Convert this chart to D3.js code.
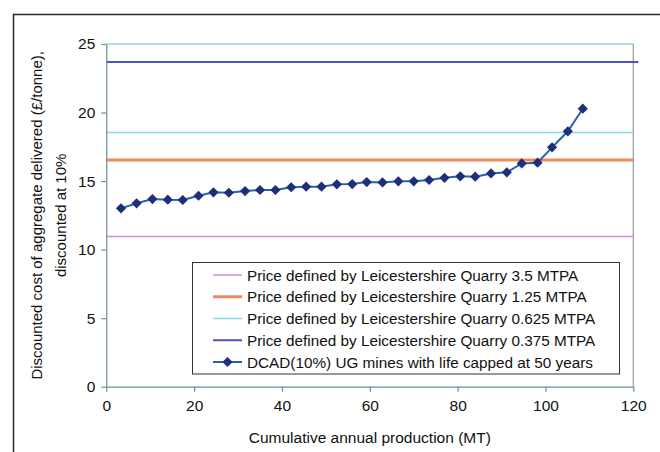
<!DOCTYPE html>
<html>
<head>
<meta charset="utf-8">
<script src="https://cdn.jsdelivr.net/npm/d3@7"></script>
<style>
  html, body { margin: 0; padding: 0; background: #fff; }
  svg { display: block; font-family: "Liberation Sans", Arial, sans-serif; }
</style>
</head>
<body>
<svg id="chart" width="660" height="452"></svg>
<script>
// Cumulative annual production (MT) of underground mines, ranked by cost
const production = [3.35, 6.9, 10.5, 14.0, 17.4, 21.0, 24.4, 27.9, 31.6, 35.0, 38.5, 42.1, 45.5, 49.0, 52.5, 56.0,
  59.3, 62.9, 66.5, 70.0, 73.5, 77.0, 80.6, 84.0, 87.6, 91.2, 94.6, 98.2, 101.5, 105.1, 108.5];
// Discounted cost of aggregate delivered (£/tonne), 10% discount rate
const dcad = [13.01, 13.38, 13.69, 13.64, 13.62, 13.93, 14.18, 14.15, 14.27, 14.35, 14.35, 14.55, 14.59, 14.59, 14.76, 14.78,
  14.93, 14.90, 14.98, 14.98, 15.08, 15.24, 15.35, 15.32, 15.56, 15.64, 16.29, 16.34, 17.46, 18.63, 20.28];

// Reference quarry prices (£/tonne)
const quarryLabels = [
  "Price defined by Leicestershire Quarry 3.5 MTPA",
  "Price defined by Leicestershire Quarry 1.25 MTPA",
  "Price defined by Leicestershire Quarry 0.625 MTPA",
  "Price defined by Leicestershire Quarry 0.375 MTPA"
];
const quarryPrices = [10.95, 16.54, 18.55, 23.68];
const quarryColors = ["#d08ce0", "#f5875c", "#86d6ef", "#5050c4"];
const quarryWidths = [1.5, 3, 1.5, 2];
const seriesLabel = "DCAD(10%) UG mines with life capped at 50 years";

const xTicks = [0, 20, 40, 60, 80, 100, 120];
const yTicks = [0, 5, 10, 15, 20, 25];

const svg = d3.select("#chart");
const plotLeft = 106.3, plotRight = 633.3, plotTop = 44, plotBottom = 386.7;

const x = d3.scaleLinear().domain([0, 120]).range([plotLeft, plotRight]);
const y = d3.scaleLinear().domain([0, 25]).range([plotBottom, plotTop]);

// Outer frame
svg.append("rect")
  .attr("x", 13.5).attr("y", 14.5).attr("width", 700).attr("height", 500)
  .attr("fill", "none").attr("stroke", "#2a2a2a").attr("stroke-width", 1.5);

// Plot area border (top and right)
svg.append("line").attr("x1", plotLeft).attr("x2", plotRight).attr("y1", plotTop).attr("y2", plotTop)
  .attr("stroke", "#6bbccb").attr("stroke-width", 1.2);
svg.append("line").attr("x1", plotRight).attr("x2", plotRight).attr("y1", plotTop).attr("y2", plotBottom)
  .attr("stroke", "#9a9a9a").attr("stroke-width", 1.2);

// Horizontal price lines
const priceLines = quarryPrices.map((v, i) => ({ v, i }));
svg.append("g").selectAll("line").data(priceLines).join("line")
  .attr("x1", plotLeft)
  .attr("x2", d => d.i === 3 ? plotRight + 5 : plotRight)
  .attr("y1", d => y(d.v)).attr("y2", d => y(d.v))
  .attr("stroke", d => quarryColors[d.i])
  .attr("stroke-width", d => quarryWidths[d.i]);

// Axes
const axisColor = "#6f8d9c";
const xAxis = svg.append("g").attr("transform", `translate(0,${plotBottom})`)
  .call(d3.axisBottom(x).tickValues(xTicks).tickSize(5).tickPadding(5).tickSizeOuter(0));
const yAxis = svg.append("g").attr("transform", `translate(${plotLeft},0)`)
  .call(d3.axisLeft(y).tickValues(yTicks).tickSize(5).tickPadding(6).tickSizeOuter(0));
[xAxis, yAxis].forEach(g => {
  g.select(".domain").attr("stroke", axisColor).attr("stroke-width", 1.2);
  g.selectAll(".tick line").attr("stroke", axisColor).attr("stroke-width", 1.2);
  g.selectAll(".tick text").attr("fill", "#111").style("font-size", "15.5px")
    .style("font-family", "'Liberation Sans', Arial, sans-serif");
});
xAxis.selectAll(".tick text").attr("dy", "0.95em");

// Series line and diamond markers
const pts = production.map((p, i) => [p, dcad[i]]);
svg.append("path").datum(pts)
  .attr("fill", "none").attr("stroke", "#2d5fae").attr("stroke-width", 2)
  .attr("d", d3.line().x(d => x(d[0])).y(d => y(d[1])));

const diamond = {
  draw(ctx, size) {
    const r = Math.sqrt(size / 2);
    ctx.moveTo(0, -r); ctx.lineTo(r, 0); ctx.lineTo(0, r); ctx.lineTo(-r, 0); ctx.closePath();
  }
};
const marker = d3.symbol().type(diamond).size(52);
svg.append("g").selectAll("path").data(pts).join("path")
  .attr("transform", d => `translate(${x(d[0])},${y(d[1])})`)
  .attr("d", marker).attr("fill", "#1c2f78");

// Axis titles
svg.append("text").attr("x", (plotLeft + plotRight) / 2).attr("y", 443)
  .attr("text-anchor", "middle").style("font-size", "15.5px").attr("fill", "#111")
  .text("Cumulative annual production (MT)");

const yTitle = svg.append("text")
  .attr("transform", `translate(0,${(plotTop + plotBottom) / 2}) rotate(-90)`)
  .attr("text-anchor", "middle").style("font-size", "15px").attr("fill", "#111");
yTitle.append("tspan").attr("x", 0).attr("y", 42).text("Discounted cost of aggregate delivered (£/tonne),");
yTitle.append("tspan").attr("x", 0).attr("y", 66).text("discounted at 10%");

// Legend
const legend = svg.append("g");
legend.append("rect").attr("x", 192.5).attr("y", 262.5).attr("width", 427).attr("height", 111.5)
  .attr("fill", "#fff").attr("stroke", "#333").attr("stroke-width", 1);
const legendItems = quarryLabels.map((t, i) => ({ t, i }))
  .concat([{ t: seriesLabel, i: 4 }]);
const rowY = i => 275 + i * 21.75;
const items = legend.selectAll("g.item").data(legendItems).join("g").attr("class", "item");
items.append("line")
  .attr("x1", 213).attr("x2", 242)
  .attr("y1", d => rowY(d.i)).attr("y2", d => rowY(d.i))
  .attr("stroke", d => d.i < 4 ? quarryColors[d.i] : "#2d5fae")
  .attr("stroke-width", d => d.i < 4 ? quarryWidths[d.i] : 2);
items.filter(d => d.i === 4).append("path")
  .attr("transform", d => `translate(227.5,${rowY(d.i)})`)
  .attr("d", marker).attr("fill", "#1c2f78");
items.append("text")
  .attr("x", 247).attr("y", d => rowY(d.i)).attr("dy", "0.36em")
  .style("font-size", "15.3px").attr("fill", "#111")
  .text(d => d.t);
</script>
</body>
</html>
